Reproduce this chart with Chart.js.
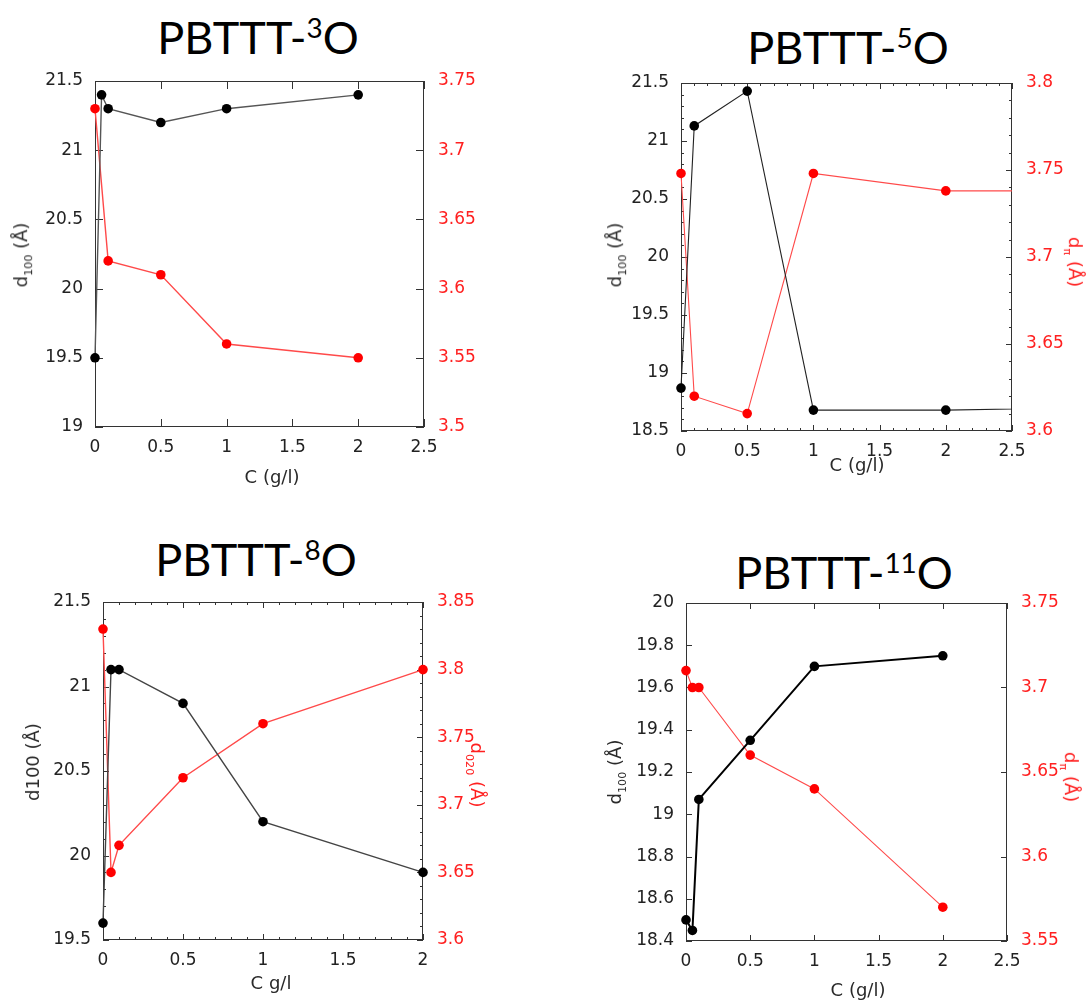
<!DOCTYPE html>
<html>
<head>
<meta charset="utf-8">
<script src="https://cdn.jsdelivr.net/npm/chart.js@4.4.0/dist/chart.umd.min.js"></script>
<style>
  body { margin: 0; background: #fff; }
  #page { position: relative; width: 1086px; height: 1000px; overflow: hidden; font-family: 'DejaVu Sans', sans-serif; }
  canvas { position: absolute; }
  .title { position: absolute; font-family: Lato, sans-serif; font-size: 45px; line-height: 1; color: #000; white-space: nowrap; transform: translateX(-50%); }
  .title sup { font-size: 0.62em; position: relative; top: -0.05em; vertical-align: top; }
  .lab { position: absolute; font-size: 18px; line-height: 1; color: #2a2a2a; white-space: nowrap; transform: translate(-50%, -50%); }
  .lab sub { font-size: 0.62em; }
  .rl { transform: translate(-50%, -50%) rotate(-90deg); }
  .rr { transform: translate(-50%, -50%) rotate(90deg); color: #ff2020; }
</style>
</head>
<body>
<div id="page">
  <div class="title" style="left:258px;top:15px">PBTTT-<sup>3</sup>O</div>
  <div class="title" style="left:848px;top:25px">PBTTT-<sup>5</sup>O</div>
  <div class="title" style="left:256px;top:537px">PBTTT-<sup>8</sup>O</div>
  <div class="title" style="left:844px;top:550px">PBTTT-<sup>11</sup>O</div>

  <canvas id="c3" width="500" height="420" style="left:0;top:60px"></canvas>
  <canvas id="c5" width="496" height="410" style="left:590px;top:60px"></canvas>
  <canvas id="c8" width="500" height="420" style="left:0;top:570px"></canvas>
  <canvas id="c11" width="496" height="440" style="left:590px;top:560px"></canvas>

  <div class="lab" style="left:272px;top:477px">C (g/l)</div>
  <div class="lab rl" style="left:23px;top:255px">d<sub>100</sub> (Å)</div>

  <div class="lab" style="left:857px;top:465px">C (g/l)</div>
  <div class="lab rl" style="left:617px;top:255px">d<sub>100</sub> (Å)</div>
  <div class="lab rr" style="left:1073px;top:262px">d<sub>π</sub> (Å)</div>

  <div class="lab" style="left:271px;top:983px">C g/l</div>
  <div class="lab rl" style="left:33px;top:762px">d100 (Å)</div>
  <div class="lab rr" style="left:475px;top:775px">d<sub>020</sub> (Å)</div>

  <div class="lab" style="left:858px;top:990px">C (g/l)</div>
  <div class="lab rl" style="left:617px;top:772px">d<sub>100</sub> (Å)</div>
  <div class="lab rr" style="left:1069px;top:777px">d<sub>π</sub> (Å)</div>
</div>
<script>
// PBTTT-3O
const conc3 = [0, 0.05, 0.1, 0.5, 1, 2];
const d100_3 = [19.5, 21.4, 21.3, 21.2, 21.3, 21.4];
const concPi3 = [0, 0.1, 0.5, 1, 2];
const dPi3 = [3.73, 3.62, 3.61, 3.56, 3.55];

// PBTTT-5O (last point sits past the axis end, line runs off the right edge)
const conc5 = [0, 0.1, 0.5, 1, 2, 3];
const d100_5 = [18.87, 21.13, 21.43, 18.68, 18.68, 18.70];
const dPi5 = [3.748, 3.62, 3.61, 3.748, 3.738, 3.738];

// PBTTT-8O
const conc8 = [0, 0.05, 0.1, 0.5, 1, 2];
const d100_8 = [19.6, 21.1, 21.1, 20.9, 20.2, 19.9];
const d020_8 = [3.83, 3.65, 3.67, 3.72, 3.76, 3.80];

// PBTTT-11O
const conc11 = [0, 0.05, 0.1, 0.5, 1, 2];
const d100_11 = [18.5, 18.45, 19.07, 19.35, 19.70, 19.75];
const dPi11 = [3.71, 3.70, 3.70, 3.66, 3.64, 3.57];

// axis ranges [min, max, step]
const xRange3 = [0, 2.5, 0.5], yRange3 = [19, 21.5, 0.5], y1Range3 = [3.5, 3.75, 0.05];
const xRange5 = [0, 2.5, 0.5], yRange5 = [18.5, 21.5, 0.5], y1Range5 = [3.6, 3.8, 0.05];
const xRange8 = [0, 2, 0.5], yRange8 = [19.5, 21.5, 0.5], y1Range8 = [3.6, 3.85, 0.05];
const xRange11 = [0, 2.5, 0.5], yRange11 = [18.4, 20, 0.2], y1Range11 = [3.55, 3.75, 0.05];

const RED = '#ff2020';
const INK = '#222';

const pairs = (xs, ys) => xs.map((x, i) => ({ x: x, y: ys[i] }));
const fmt = v => String(parseFloat(Number(v).toFixed(4)));

// frame + inward ticks (major and minor) on all four sides
const frameTicks = {
  id: 'frameTicks',
  beforeDatasetsDraw(chart, args, o) {
    const { ctx, chartArea: a } = chart;
    ctx.save();
    ctx.strokeStyle = '#333';
    ctx.lineWidth = 1;
    ctx.strokeRect(Math.round(a.left) + 0.5, Math.round(a.top) + 0.5,
                   Math.round(a.width) - 1, Math.round(a.height) - 1);
    const vals = (scale, n) => {
      const major = scale.ticks.map(t => t.value);
      const minor = [];
      if (n > 1) {
        for (let i = 0; i < major.length - 1; i++) {
          for (let k = 1; k < n; k++) minor.push(major[i] + (major[i + 1] - major[i]) * k / n);
        }
      }
      return { major, minor };
    };
    const seg = (x1, y1, x2, y2) => { ctx.beginPath(); ctx.moveTo(x1, y1); ctx.lineTo(x2, y2); ctx.stroke(); };
    const sx = chart.scales.x, sy = chart.scales.y, sy1 = chart.scales.y1;
    const xv = vals(sx, o.xMinor);
    [[xv.major, o.len], [xv.minor, o.minorLen]].forEach(([list, len]) => list.forEach(v => {
      const p = Math.round(sx.getPixelForValue(v)) + 0.5;
      seg(p, a.bottom, p, a.bottom - len);
      seg(p, a.top, p, a.top + len);
    }));
    const yv = vals(sy, o.yMinor);
    [[yv.major, o.len], [yv.minor, o.minorLen]].forEach(([list, len]) => list.forEach(v => {
      const p = Math.round(sy.getPixelForValue(v)) + 0.5;
      seg(a.left, p, a.left + len, p);
    }));
    const y1v = vals(sy1, o.y1Minor);
    [[y1v.major, o.len], [y1v.minor, o.minorLen]].forEach(([list, len]) => list.forEach(v => {
      const p = Math.round(sy1.getPixelForValue(v)) + 0.5;
      seg(a.right, p, a.right - len, p);
    }));
    ctx.restore();
  }
};

function axis(range, pos, color, size, pad) {
  return {
    type: 'linear', position: pos, min: range[0], max: range[1],
    grid: { display: false }, border: { display: false },
    ticks: {
      stepSize: range[2], autoSkip: false, maxRotation: 0, padding: pad, color: color,
      font: { family: 'DejaVu Sans', size: 17 }, callback: fmt
    },
    afterFit(s) { if (pos === 'bottom') s.height = size; else s.width = size; }
  };
}

function makePanel(id, canvasBox, plot, black, red, ranges, look) {
  const yW = plot.l - canvasBox.x;
  const y1W = canvasBox.x + canvasBox.w - plot.r;
  const xH = canvasBox.y + canvasBox.h - plot.b;
  return new Chart(document.getElementById(id), {
    type: 'scatter',
    data: {
      datasets: [{
        data: black, yAxisID: 'y', showLine: true,
        borderColor: look.blackLine, borderWidth: look.blackWidth,
        backgroundColor: '#000', pointBackgroundColor: '#000', pointBorderWidth: 0,
        pointRadius: 4.8, clip: look.clip
      }, {
        data: red, yAxisID: 'y1', showLine: true,
        borderColor: '#ff4a4a', borderWidth: look.redWidth,
        backgroundColor: '#ff0000', pointBackgroundColor: '#ff0000', pointBorderWidth: 0,
        pointRadius: 4.8, clip: look.clip
      }]
    },
    options: {
      responsive: false, animation: false, devicePixelRatio: 1,
      layout: { padding: { top: plot.t - canvasBox.y, left: 0, right: 0, bottom: 0 } },
      plugins: {
        legend: { display: false }, tooltip: { enabled: false },
        frameTicks: look.ticks
      },
      scales: {
        x: axis(ranges[0], 'bottom', INK, xH, 2),
        y: axis(ranges[1], 'left', INK, yW, 4),
        y1: axis(ranges[2], 'right', RED, y1W, 6)
      }
    },
    plugins: [frameTicks]
  });
}

const clipAll = { left: 8, top: 8, right: 8, bottom: 8 };

makePanel('c3', { x: 0, y: 60, w: 500, h: 420 }, { l: 95, t: 81, r: 424, b: 427 },
  pairs(conc3, d100_3), pairs(concPi3, dPi3), [xRange3, yRange3, y1Range3],
  { blackLine: '#555', blackWidth: 1.4, redWidth: 1.4, clip: clipAll,
    ticks: { len: 8, minorLen: 4, xMinor: 1, yMinor: 1, y1Minor: 1 } });

makePanel('c5', { x: 590, y: 60, w: 496, h: 410 }, { l: 681, t: 83, r: 1012, b: 431 },
  pairs(conc5, d100_5), pairs(conc5, dPi5), [xRange5, yRange5, y1Range5],
  { blackLine: '#222', blackWidth: 1.1, redWidth: 1.1, clip: { left: 8, top: 8, right: 0, bottom: 8 },
    ticks: { len: 6, minorLen: 3, xMinor: 5, yMinor: 5, y1Minor: 5 } });

makePanel('c8', { x: 0, y: 570, w: 500, h: 420 }, { l: 103, t: 602, r: 423, b: 940 },
  pairs(conc8, d100_8), pairs(conc8, d020_8), [xRange8, yRange8, y1Range8],
  { blackLine: '#444', blackWidth: 1.4, redWidth: 1.4, clip: clipAll,
    ticks: { len: 6, minorLen: 3, xMinor: 5, yMinor: 5, y1Minor: 5 } });

makePanel('c11', { x: 590, y: 560, w: 496, h: 440 }, { l: 686, t: 603, r: 1007, b: 941 },
  pairs(conc11, d100_11), pairs(conc11, dPi11), [xRange11, yRange11, y1Range11],
  { blackLine: '#000', blackWidth: 2, redWidth: 1.1, clip: clipAll,
    ticks: { len: 6, minorLen: 3, xMinor: 1, yMinor: 1, y1Minor: 1 } });
</script>
</body>
</html>
